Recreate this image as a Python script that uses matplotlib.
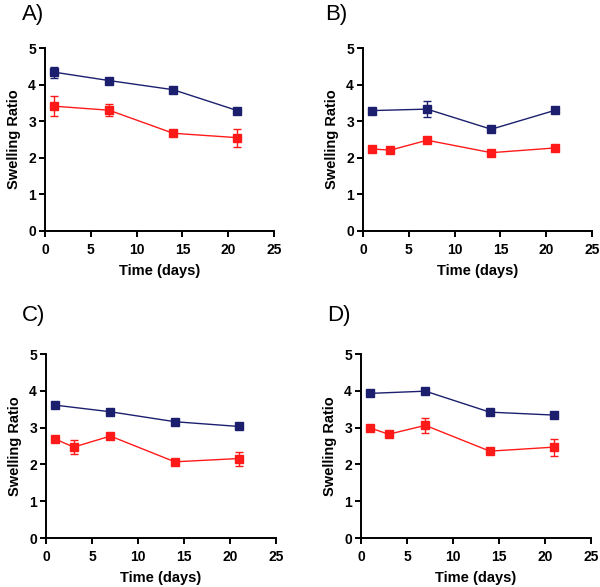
import matplotlib
matplotlib.use("Agg")
import matplotlib.pyplot as plt

plt.rcParams['font.family'] = ['Liberation Sans', 'DejaVu Sans']

panel_labels = ["A)", "B)", "C)", "D)"]

# Panel A
a_blue_x = [1, 7, 14, 21]
a_blue_y = [4.34, 4.11, 3.86, 3.29]
a_blue_e = [0.15, 0.04, 0.04, 0.04]
a_red_x = [1, 7, 14, 21]
a_red_y = [3.41, 3.30, 2.67, 2.55]
a_red_e = [0.27, 0.17, 0.04, 0.25]

# Panel B
b_blue_x = [1, 7, 14, 21]
b_blue_y = [3.29, 3.33, 2.78, 3.30]
b_blue_e = [0.03, 0.21, 0.05, 0.03]
b_red_x = [1, 3, 7, 14, 21]
b_red_y = [2.24, 2.21, 2.48, 2.14, 2.27]
b_red_e = [0.04, 0.03, 0.04, 0.03, 0.06]

# Panel C
c_blue_x = [1, 7, 14, 21]
c_blue_y = [3.61, 3.43, 3.16, 3.03]
c_blue_e = [0.03, 0.03, 0.03, 0.03]
c_red_x = [1, 3, 7, 14, 21]
c_red_y = [2.69, 2.47, 2.77, 2.07, 2.16]
c_red_e = [0.05, 0.18, 0.04, 0.03, 0.19]

# Panel D
d_blue_x = [1, 7, 14, 21]
d_blue_y = [3.93, 3.99, 3.42, 3.34]
d_blue_e = [0.03, 0.03, 0.06, 0.03]
d_red_x = [1, 3, 7, 14, 21]
d_red_y = [2.99, 2.82, 3.06, 2.36, 2.47]
d_red_e = [0.08, 0.03, 0.21, 0.03, 0.23]

x_ticks = [0, 5, 10, 15, 20, 25]
y_ticks = [0, 1, 2, 3, 4, 5]

panels = [
    (a_blue_x, a_blue_y, a_blue_e, a_red_x, a_red_y, a_red_e),
    (b_blue_x, b_blue_y, b_blue_e, b_red_x, b_red_y, b_red_e),
    (c_blue_x, c_blue_y, c_blue_e, c_red_x, c_red_y, c_red_e),
    (d_blue_x, d_blue_y, d_blue_e, d_red_x, d_red_y, d_red_e),
]

W, H = 600, 587
fig = plt.figure(figsize=(W / 100, H / 100), dpi=100)

# axes rectangles in pixels: (left, top, right, bottom)
rects = [(45, 48, 274, 231), (363, 48, 592, 231), (46, 354, 276, 538), (361, 354, 591, 538)]
label_pos = [(22, 20), (325, 20), (22, 321), (327, 321)]

navy = '#1b1f6e'
red = '#ff1a1a'

for i, (rect, data) in enumerate(zip(rects, panels)):
    l, t, r, b = rect
    ax = fig.add_axes([l / W, 1 - b / H, (r - l) / W, (b - t) / H])
    bx, by, be, rx, ry, re = data
    ax.errorbar(bx, by, yerr=be, color=navy, marker='s', markersize=5.5, linewidth=1.0,
                elinewidth=1.0, capsize=3, capthick=1.0, clip_on=False, zorder=3)
    ax.errorbar(rx, ry, yerr=re, color=red, marker='s', markersize=5.5, linewidth=1.0,
                elinewidth=1.0, capsize=3, capthick=1.0, clip_on=False, zorder=3)
    ax.set_xlim(0, 25)
    ax.set_ylim(0, 5)
    ax.set_xticks(x_ticks)
    ax.set_yticks(y_ticks)
    ax.spines['top'].set_visible(False)
    ax.spines['right'].set_visible(False)
    for s in ['left', 'bottom']:
        ax.spines[s].set_linewidth(1.4)
    ax.tick_params(direction='out', length=4, width=1.4, labelsize=10)
    ax.tick_params(axis='x', pad=4.5)
    ax.tick_params(axis='y', pad=2.5)
    for lab in ax.get_xticklabels() + ax.get_yticklabels():
        lab.set_fontweight('bold')
    ax.set_xlabel('Time (days)', fontsize=10.5, fontweight='bold', labelpad=5)
    ax.set_ylabel('Swelling Ratio', fontsize=10.5, fontweight='bold', labelpad=5)
    lx, ly = label_pos[i]
    fig.text(lx / W, 1 - ly / H, panel_labels[i], fontsize=16, ha='left', va='baseline')

fig.savefig('out.png', dpi=100)
